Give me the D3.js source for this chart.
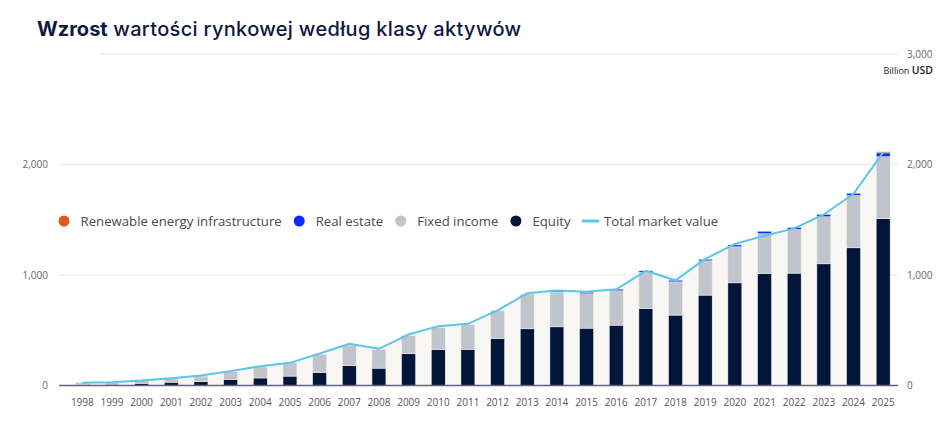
<!DOCTYPE html>
<html>
<head>
<meta charset="utf-8">
<script src="https://cdn.jsdelivr.net/npm/d3@7"></script>
<style>
  body { margin: 0; background: #fff; }
  svg { display: block; }
  .tick-label { font-family: "Open Sans", sans-serif; font-size: 10px; fill: #666; }
  .legend-label { font-family: "Open Sans", sans-serif; font-size: 13.2px; fill: #4a4a4a; }
</style>
</head>
<body>
<div id="chart"></div>
<script>
// Data (billion USD)
const years = ['1998','1999','2000','2001','2002','2003','2004','2005','2006','2007','2008','2009','2010','2011',
  '2012','2013','2014','2015','2016','2017','2018','2019','2020','2021','2022','2023','2024','2025'];
const equity = [10, 12, 20, 30, 35, 55, 68, 85, 118, 180, 157, 287, 326, 328,
  425, 513, 531, 519, 546, 697, 637, 818, 929, 1014, 1017, 1101, 1246, 1509];
const fixedIncome = [15, 16, 25, 35, 50, 70, 100, 120, 165, 185, 170, 165, 200, 222,
  255, 315, 314, 311, 311, 326, 301, 310, 326, 359, 395, 426, 474, 561];
const realEstate = [0, 0, 0, 0, 0, 0, 0, 0, 0, 0, 0, 0, 0, 0,
  0, 0, 12, 14, 15, 15, 15, 15, 17, 23, 18, 21, 20, 35];
const renewables = [0, 0, 0, 0, 0, 0, 0, 0, 0, 0, 0, 0, 0, 0,
  0, 0, 0, 0, 0, 0, 0, 0, 0, 0, 0, 0, 0, 10];
const totalValue = [25, 30, 45, 66, 90, 130, 175, 205, 290, 377, 332, 461, 537, 558,
  680, 834, 860, 849, 871, 1037, 952, 1145, 1281, 1356, 1422, 1548, 1735, 2110];
const leftTicks = [0, 1000, 2000];
const rightTicks = [0, 1000, 2000, 3000];

const seriesKeys = ['equity', 'fixedIncome', 'realEstate', 'renewables'];
const colors = {
  equity: '#011638',
  fixedIncome: '#c1c4cb',
  realEstate: '#0a2cff',
  renewables: '#e0561c',
  total: '#5cc6e6',
  area: '#f8f7f4'
};

const rows = years.map((y, i) => ({
  year: y,
  equity: equity[i],
  fixedIncome: fixedIncome[i],
  realEstate: realEstate[i],
  renewables: renewables[i],
  total: totalValue[i]
}));

const width = 948, height = 422;
const svg = d3.select('#chart').append('svg')
    .attr('width', width)
    .attr('height', height);

// Title
const title = svg.append('text')
    .attr('x', 37)
    .attr('y', 36)
    .style('font-family', 'Inter, sans-serif')
    .style('font-size', '20px')
    .style('fill', '#0e1840');
title.append('tspan').style('font-weight', 700).text('Wzrost');
title.append('tspan').style('font-weight', 500).style('letter-spacing', '0.32px')
    .text(' wartości rynkowej według klasy aktywów');

// Scales
const xScale = d3.scaleBand()
    .domain(years)
    .range([67.5, 898])
    .paddingInner(0.53)
    .paddingOuter(0.265);

const yScale = d3.scaleLinear()
    .domain([0, 3000])
    .range([385.5, 54]);

const plotLeft = 59, plotRight = 898;

// Gridlines
svg.append('g')
  .selectAll('line')
  .data(rightTicks.filter(d => d > 0))
  .join('line')
    .attr('x1', d => d === 3000 ? 99 : plotLeft)
    .attr('x2', plotRight)
    .attr('y1', d => yScale(d))
    .attr('y2', d => yScale(d))
    .attr('stroke', '#e8e8e8')
    .attr('stroke-width', 1);

// Area under total line
const cx = d => xScale(d.year) + xScale.bandwidth() / 2;
svg.append('path')
    .datum(rows)
    .attr('fill', colors.area)
    .attr('d', d3.area().x(cx).y0(yScale(0)).y1(d => yScale(d.total)));

// Stacked bars
const stacked = d3.stack().keys(seriesKeys)(rows);
svg.append('g')
  .selectAll('g')
  .data(stacked)
  .join('g')
    .attr('fill', d => colors[d.key])
  .selectAll('rect')
  .data(d => d.filter(s => s[1] - s[0] > 0))
  .join('rect')
    .attr('x', d => xScale(d.data.year))
    .attr('width', xScale.bandwidth())
    .attr('y', d => yScale(d[1]))
    .attr('height', d => yScale(d[0]) - yScale(d[1]))
    .attr('stroke', '#f4f4f4')
    .attr('stroke-width', 0.5);

// Total market value line
svg.append('path')
    .datum(rows)
    .attr('fill', 'none')
    .attr('stroke', colors.total)
    .attr('stroke-width', 2)
    .attr('d', d3.line().x(cx).y(d => yScale(d.total)));

// Baseline
svg.append('line')
    .attr('x1', plotLeft)
    .attr('x2', plotRight)
    .attr('y1', yScale(0))
    .attr('y2', yScale(0))
    .attr('stroke', '#5c667a')
    .attr('stroke-width', 1.3);

// Left axis
const leftAxis = svg.append('g')
    .attr('transform', 'translate(48,0)')
    .call(d3.axisLeft(yScale).tickValues(leftTicks).tickSize(0).tickPadding(0).tickFormat(d3.format(',')))
    .call(g => g.select('.domain').remove());
leftAxis.selectAll('text').attr('class', 'tick-label');

// Right axis
const rightAxis = svg.append('g')
    .attr('transform', 'translate(907,0)')
    .call(d3.axisRight(yScale).tickValues(rightTicks).tickSize(0).tickPadding(0).tickFormat(d3.format(',')))
    .call(g => g.select('.domain').remove());
rightAxis.selectAll('text').attr('class', 'tick-label');

// Unit label
const unit = svg.append('text')
    .attr('x', 933)
    .attr('y', 74)
    .attr('text-anchor', 'end')
    .style('font-family', '"Open Sans", sans-serif')
    .style('fill', '#222');
unit.append('tspan').style('font-size', '9px').text('Billion ');
unit.append('tspan').style('font-size', '10.5px').style('font-weight', 600).text('USD');

// X axis labels
const xAxis = svg.append('g')
    .attr('transform', `translate(0,${yScale(0) + 11})`)
    .call(d3.axisBottom(xScale).tickSize(0).tickPadding(0))
    .call(g => g.select('.domain').remove());
xAxis.selectAll('text').attr('class', 'tick-label').attr('dy', '0.9em').style('fill', '#555');

// Legend
const legendItems = [
  {label: 'Renewable energy infrastructure', color: colors.renewables, type: 'dot'},
  {label: 'Real estate', color: colors.realEstate, type: 'dot'},
  {label: 'Fixed income', color: colors.fixedIncome, type: 'dot'},
  {label: 'Equity', color: colors.equity, type: 'dot'},
  {label: 'Total market value', color: colors.total, type: 'line'}
];
const legend = svg.append('g').attr('transform', 'translate(58,221)');
let lx = 0;
legendItems.forEach(item => {
  const g = legend.append('g').attr('transform', `translate(${lx},0)`);
  const textX = item.type === 'dot' ? 22.5 : 22;
  if (item.type === 'dot') {
    g.append('circle').attr('cx', 6).attr('cy', 0).attr('r', 5.5).attr('fill', item.color);
  } else {
    g.append('line').attr('x1', 1).attr('x2', 16).attr('y1', 0).attr('y2', 0)
        .attr('stroke', item.color).attr('stroke-width', 3).attr('stroke-linecap', 'round');
  }
  const t = g.append('text')
      .attr('class', 'legend-label')
      .attr('x', textX)
      .attr('y', 0)
      .attr('dy', '0.35em')
      .text(item.label);
  lx += textX + t.node().getComputedTextLength() + 11.5;
});
</script>
</body>
</html>
